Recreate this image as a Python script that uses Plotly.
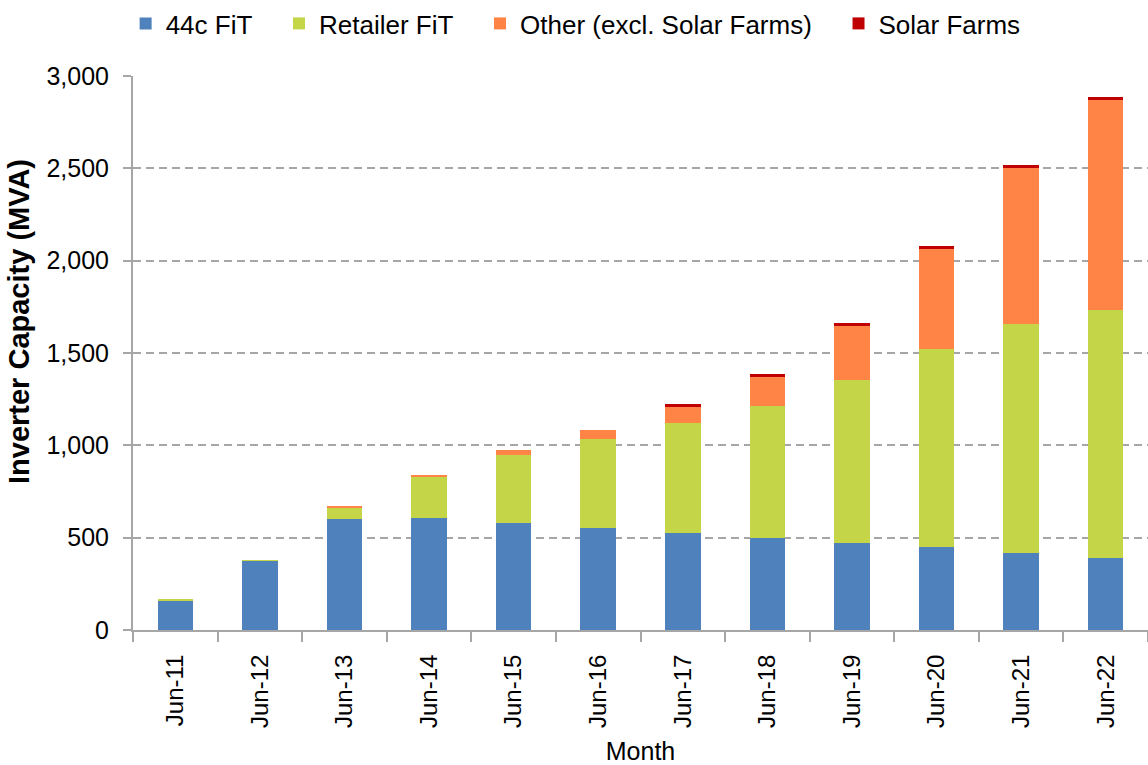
import plotly.graph_objects as go

months = ["Jun-11", "Jun-12", "Jun-13", "Jun-14", "Jun-15", "Jun-16",
          "Jun-17", "Jun-18", "Jun-19", "Jun-20", "Jun-21", "Jun-22"]

fit_44c = [162, 374, 600, 608, 581, 551, 525, 498, 473, 448, 419, 392]
retailer_fit = [1, 3, 65, 219, 365, 482, 598, 717, 881, 1072, 1238, 1341]
other_excl_farms = [0, 0, 6, 12, 30, 52, 86, 157, 294, 543, 845, 1139]
solar_farms = [0, 0, 0, 0, 0, 0, 15, 14, 13, 15, 14, 14]

y_tick_vals = [0, 500, 1000, 1500, 2000, 2500, 3000]
y_tick_text = ["0", "500", "1,000", "1,500", "2,000", "2,500", "3,000"]

series = [
    ("44c FiT", fit_44c, "#4F81BD"),
    ("Retailer FiT", retailer_fit, "#C4D647"),
    ("Other (excl. Solar Farms)", other_excl_farms, "#FF8446"),
    ("Solar Farms", solar_farms, "#C00000"),
]

FONT = "Liberation Sans, Arial, sans-serif"
AXIS_GREY = "#A6A6A6"
PAD = "\u00a0\u00a0\u00a0"  # extra room between legend entries

fig = go.Figure()
for name, vals, color in series:
    fig.add_trace(go.Bar(
        x=months, y=vals, name=name + PAD,
        marker=dict(color=color, line=dict(width=0)),
    ))

# vertical axis title, placed by hand so it sits a little above the plot centre
fig.add_annotation(
    text="<b>Inverter Capacity (MVA)</b>",
    xref="paper", yref="paper",
    x=-0.1123, y=0.556,
    xanchor="center", yanchor="middle",
    textangle=-90, showarrow=False,
    font=dict(size=29, family=FONT, color="black"),
)

fig.update_layout(
    barmode="stack",
    bargap=0.58,
    width=1148, height=765,
    margin=dict(l=133, r=0, t=76, b=135),
    paper_bgcolor="white",
    plot_bgcolor="white",
    font=dict(family=FONT, size=24, color="black"),
    legend=dict(
        orientation="h",
        traceorder="normal",
        xref="container", yref="container",
        x=0.511, xanchor="center",
        y=1.0, yanchor="top",
        font=dict(size=26),
        itemclick=False,
    ),
    xaxis=dict(
        title=dict(text="Month", font=dict(size=25), standoff=20),
        tickangle=-90,
        showline=True, linecolor=AXIS_GREY, linewidth=2,
        ticks="outside", tickson="boundaries", ticklen=10,
        tickcolor=AXIS_GREY, tickwidth=2,
        ticklabelstandoff=13,
        showgrid=False,
        tickfont=dict(size=24),
    ),
    yaxis=dict(
        range=[0, 3000],
        tickvals=y_tick_vals,
        ticktext=y_tick_text,
        showline=True, linecolor=AXIS_GREY, linewidth=2,
        ticks="outside", ticklen=8, tickcolor=AXIS_GREY, tickwidth=2,
        ticklabelstandoff=9,
        showgrid=True, gridcolor=AXIS_GREY, gridwidth=2, griddash="8px,5px",
        zeroline=False,
        tickfont=dict(size=25),
    ),
)

fig.write_html("out.html")
